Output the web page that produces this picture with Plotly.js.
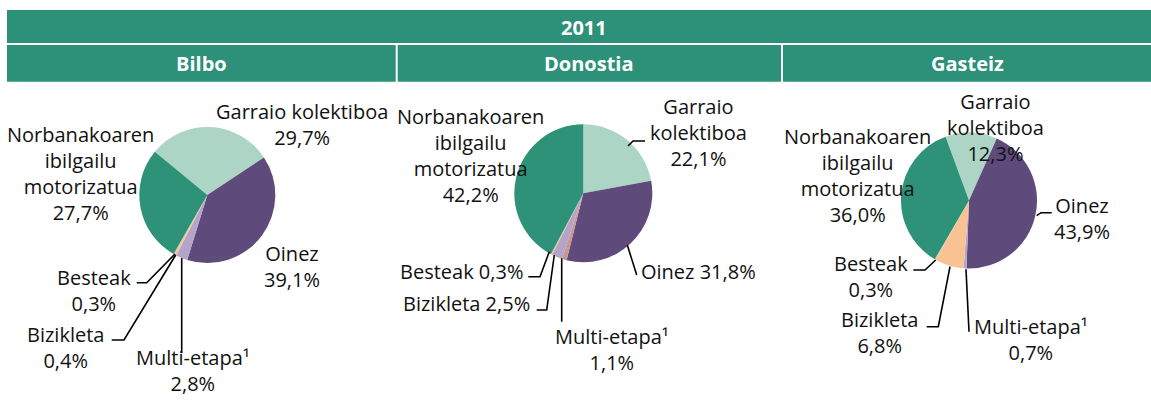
<!DOCTYPE html>
<html>
<head>
<meta charset="utf-8">
<script src="https://cdn.plot.ly/plotly-3.0.1.min.js"></script>
<style>html,body{margin:0;padding:0;background:#fff;}#chart{width:1151px;height:407px;}</style>
</head>
<body>
<div id="chart"></div>
<script>
// ---- data ----
var year = "2011";
var cities = ["Bilbo", "Donostia", "Gasteiz"];
var categories = ["Garraio kolektiboa", "Oinez", "Multi-etapa¹", "Bizikleta", "Besteak", "Norbanakoaren ibilgailu motorizatua"];
var categoryLines = [["Garraio", "kolektiboa"], ["Oinez"], ["Multi-etapa¹"], ["Bizikleta"], ["Besteak"], ["Norbanakoaren", "ibilgailu", "motorizatua"]];
var bilboValues = [29.7, 39.1, 2.8, 0.4, 0.3, 27.7];
var donostiaValues = [22.1, 31.8, 1.1, 2.5, 0.3, 42.2];
var gasteizValues = [12.3, 43.9, 0.7, 6.8, 0.3, 36.0];

// ---- styles / layout ----
var W = 1151, H = 407;
var headerColor = "#2d9078";
var bilboColors = ["#acd5c5", "#5e4a7b", "#b3a4c8", "#f8c293", "#e8b7a0", "#2e9278"];
var donostiaColors = ["#acd5c5", "#5e4a7b", "#c9978c", "#b3a4c8", "#f8c293", "#2e9278"];
var gasteizColors = ["#acd5c5", "#5e4a7b", "#b3a4c8", "#f8c293", "#efc7a8", "#2e9278"];
var pieGeom = [
  {cx: 207.3, cy: 195, r: 68, rot: -50.5},
  {cx: 583.3, cy: 193.3, r: 69, rot: 0},
  {cx: 969, cy: 200.5, r: 68, rot: -20.2}
];
// label placements: [category index, mode, x, first line y, line step]
var labelPos = [
  [[0, "join", 301.7, 111.7, 26], [5, "stack", 80.8, 136.7, 24.7], [1, "stack", 291.7, 254.3, 25],
   [4, "stack", 94, 278, 25], [3, "stack", 65.5, 335.7, 24.5], [2, "stack", 192.5, 359, 23]],
  [[5, "stack", 471, 118.3, 25], [0, "stack", 698, 108.3, 24.2], [1, "inline", 698.3, 271.7, 25],
   [4, "inline", 461, 271.7, 25], [3, "inline", 466.7, 303.3, 25], [2, "stack", 612, 336.7, 25]],
  [[0, "stack", 995, 103.8, 23.4], [5, "stack", 857.2, 138.3, 25], [1, "stack", 1082, 206.7, 23.5],
   [4, "stack", 871.5, 264, 24.3], [3, "stack", 879.6, 320, 25], [2, "stack", 1030.5, 326.7, 25]]
];
var leaders = [
  [[[136.7, 282.7], [146.7, 282.7], [175, 254]], [[111.7, 340], [124, 340], [175.7, 255]], [[181.7, 258], [181.7, 353]]],
  [[[628, 146], [633, 141], [645, 141]], [[627.3, 245], [636.7, 275]], [[528.3, 276.7], [540, 276.7], [549.3, 251.7]],
   [[536.7, 310], [546.7, 310], [554.3, 255]], [[561.7, 258.3], [561.7, 321.7]]],
  [[[1036.7, 215.7], [1041, 212.7], [1051.7, 212.7]], [[913.3, 270], [925, 270], [935.7, 260]],
   [[926.7, 326.7], [938.3, 326.7], [950, 266.7]], [[966, 269.3], [969, 331.7]]]
];

function fx(x) { return x / W; }
function fy(y) { return 1 - y / H; }
function fmt(v) { return v.toFixed(1).replace(".", ",") + "%"; }

var valuesByCity = [bilboValues, donostiaValues, gasteizValues];
var colorsByCity = [bilboColors, donostiaColors, gasteizColors];

var data = cities.map(function (c, k) {
  var g = pieGeom[k];
  return {
    type: "pie",
    name: c,
    labels: categories,
    values: valuesByCity[k],
    sort: false,
    direction: "clockwise",
    rotation: g.rot,
    textinfo: "none",
    hoverinfo: "none",
    marker: {colors: colorsByCity[k], line: {width: 0}},
    domain: {x: [fx(g.cx - g.r), fx(g.cx + g.r)], y: [fy(g.cy + g.r), fy(g.cy - g.r)]},
    showlegend: false
  };
});

var font = {family: "Open Sans, Noto Sans, sans-serif", size: 20, color: "#111111"};
var annotations = [];
var shapes = [];

// header
shapes.push({type: "rect", xref: "paper", yref: "paper", x0: fx(7), x1: fx(1151), y0: fy(43), y1: fy(10), fillcolor: headerColor, line: {width: 0}, layer: "below"});
var cols = [[7, 395.7], [397.7, 781], [783, 1151]];
cols.forEach(function (c, k) {
  shapes.push({type: "rect", xref: "paper", yref: "paper", x0: fx(c[0]), x1: fx(c[1]), y0: fy(81.7), y1: fy(45), fillcolor: headerColor, line: {width: 0}, layer: "below"});
  annotations.push({xref: "paper", yref: "paper", x: fx((c[0] + c[1]) / 2), y: fy(63), xanchor: "center", yanchor: "middle",
    text: "<b>" + cities[k] + "</b>", showarrow: false, font: {family: font.family, size: 20, color: "#ffffff"}});
});
annotations.push({xref: "paper", yref: "paper", x: fx(583.5), y: fy(27), xanchor: "center", yanchor: "middle",
  text: "<b>" + year + "</b>", showarrow: false, font: {family: font.family, size: 20, color: "#ffffff"}});

// labels (one annotation per label, lines joined with <br>)
labelPos.forEach(function (list, k) {
  list.forEach(function (p) {
    var i = p[0], mode = p[1];
    var v = fmt(valuesByCity[k][i]);
    var lines;
    if (mode === "stack") lines = categoryLines[i].concat([v]);
    else if (mode === "join") lines = [categoryLines[i].join(" "), v];
    else lines = [categoryLines[i].join(" ") + " " + v];
    var yc = p[3] + (lines.length - 1) * p[4] / 2;
    annotations.push({xref: "paper", yref: "paper", x: fx(p[2]), y: fy(yc), xanchor: "center", yanchor: "middle",
      align: "center", text: lines.join("<br>"), showarrow: false, font: font});
  });
});

// leader lines
leaders.forEach(function (list) {
  list.forEach(function (pts) {
    var path = pts.map(function (q, j) { return (j ? "L" : "M") + fx(q[0]) + "," + fy(q[1]); }).join(" ");
    shapes.push({type: "path", xref: "paper", yref: "paper", path: path, line: {color: "#000000", width: 1.6}});
  });
});

var layout = {
  width: W, height: H,
  margin: {l: 0, r: 0, t: 0, b: 0},
  paper_bgcolor: "#ffffff",
  shapes: shapes,
  annotations: annotations,
  showlegend: false
};
Plotly.newPlot("chart", data, layout, {staticPlot: true, displayModeBar: false});
</script>
</body>
</html>
